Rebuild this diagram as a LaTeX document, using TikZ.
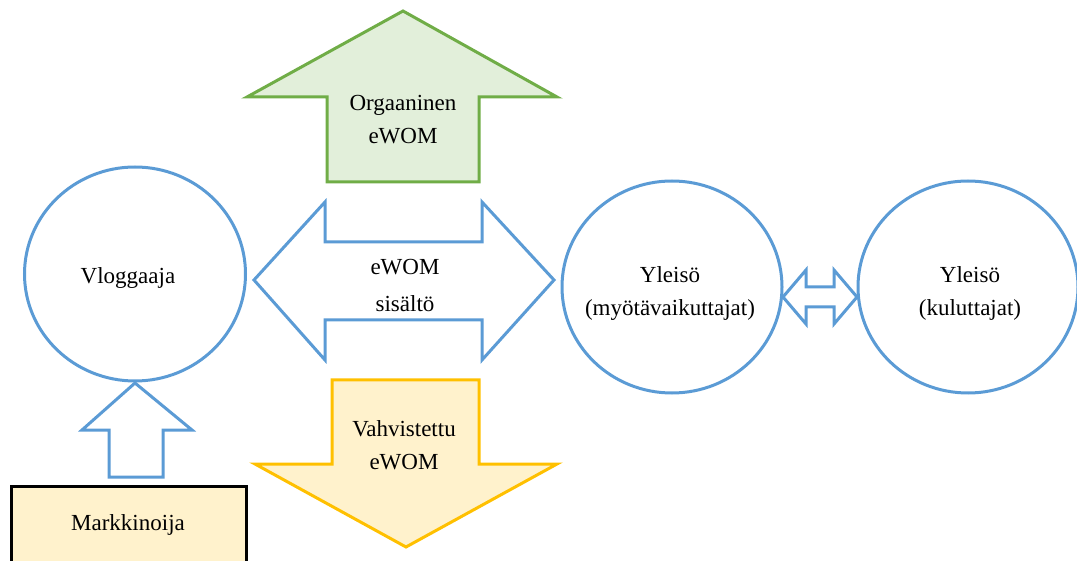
\documentclass[tikz,border=0pt]{standalone}
\usepackage{fontspec}
\setmainfont{Liberation Serif}
\definecolor{lineblue}{HTML}{5B9BD5}
\definecolor{leafgreen}{HTML}{70AD47}
\definecolor{leaffill}{HTML}{E2EFDA}
\definecolor{goldline}{HTML}{FFC000}
\definecolor{goldfill}{HTML}{FFF2CC}
\tikzset{
  lbl/.style={align=center, inner sep=0pt, font=\fontsize{11.5}{16.5}\selectfont},
  circ/.style={draw=lineblue, line width=1.5pt, ellipse},
  bluearrow/.style={draw=lineblue, line width=1.5pt, fill=white, line join=miter},
  greenarrow/.style={draw=leafgreen, fill=leaffill, line width=1.5pt, line join=miter},
  goldarrow/.style={draw=goldline, fill=goldfill, line width=1.5pt, line join=miter},
}
\usetikzlibrary{shapes.geometric}
\begin{document}
\begin{tikzpicture}[x=0.5pt,y=-0.5pt]
\useasboundingbox (0,0) rectangle (1077,561);

% circles
\node[circ, minimum width=110.5pt, minimum height=107pt] (vlog) at (135,274) {};
\node[circ, minimum width=110pt, minimum height=106pt] (yl1) at (672,287) {};
\node[circ, minimum width=110pt, minimum height=106pt] (yl2) at (968,287) {};

% organic eWOM (up arrow)
\draw[greenarrow] (403,11) -- (557,97) -- (479,97) -- (479,182) -- (327,182) -- (327,97) -- (247,97) -- cycle;
% amplified eWOM (down arrow)
\draw[goldarrow] (332,380) -- (479,380) -- (479,464) -- (557,464) -- (406,547) -- (255,464) -- (332,464) -- cycle;
% eWOM content (double arrow)
\draw[bluearrow] (254,280) -- (325,202) -- (325,242) -- (482,242) -- (482,202) -- (554,280) -- (482,360) -- (482,320) -- (325,320) -- (325,360) -- cycle;
% marketer -> vlogger
\draw[bluearrow] (135,383) -- (192,430) -- (163,430) -- (163,477) -- (109,477) -- (109,430) -- (82,430) -- cycle;
% between the audiences
\draw[bluearrow] (783,297) -- (806,270) -- (806,287) -- (834,287) -- (834,270) -- (857,297) -- (834,324) -- (834,307) -- (806,307) -- (806,324) -- cycle;

% marketer box
\draw[black, line width=1.5pt, fill=goldfill] (11,486) rectangle (246,570);

% labels
\node[lbl] (tvlog) at (128,278) {Vloggaaja};
\node[lbl] (tyl1) at (670,294) {Yleisö\\(myötävaikuttajat)};
\node[lbl] (tyl2) at (970,293) {Yleisö\\(kuluttajat)};
\node[lbl] (torg) at (403,120) {Orgaaninen\\eWOM};
\node[lbl] (tsis) at (405,285) {eWOM\\[2pt] sisältö};
\node[lbl] (tvah) at (404,445) {Vahvistettu\\eWOM};
\node[lbl] (tmark) at (128,525) {Markkinoija};
\end{tikzpicture}
\end{document}
